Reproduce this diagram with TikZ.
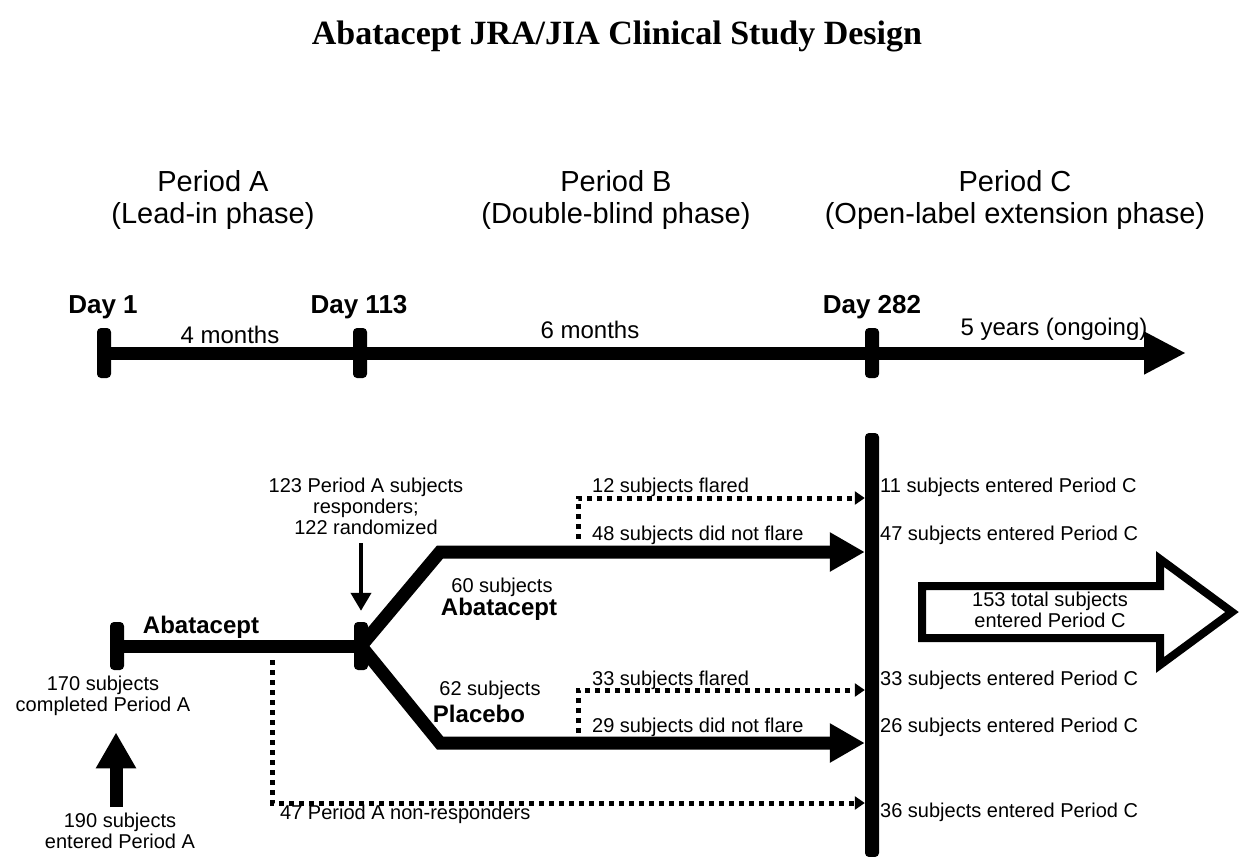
\documentclass[tikz,border=0pt]{standalone}
\usepackage{fontspec}
\setmainfont{Liberation Sans}
\newfontfamily\titlefont{Liberation Serif}
\usetikzlibrary{arrows.meta,positioning,calc}
\newcommand{\fsz}[2]{\fontsize{#1pt}{#2pt}\selectfont}

\begin{document}
\begin{tikzpicture}[x=1pt, y=-1pt,
      every node/.style={inner sep=0pt, text=black},
      txt/.style={font=\fsz{20}{21}, align=center},
      period/.style={font=\fsz{29}{32}, align=center},
      day/.style={font=\bfseries\fsz{26}{28}, anchor=base},
      durlbl/.style={font=\fsz{24}{26}, anchor=base},
      arm/.style={font=\bfseries\fsz{24}{26}, anchor=base},
      daytick/.style={fill=black, rounded corners=4pt, minimum width=14pt, minimum height=50pt},
      thickline/.style={line width=13pt},
      flow/.style={thickline, -{Triangle[length=35pt,width=37pt]}},
      drop/.style={line width=5pt, dash pattern=on 5pt off 5pt, -{Triangle[length=10pt,width=13pt]}}]
      \useasboundingbox (0,0) rectangle (1240,857);
      \node[font=\titlefont\bfseries\fsz{34}{36}, anchor=base] at (617,44) (title) {Abatacept JRA/JIA Clinical Study Design};

      \node[period] at (213,199.5) (perA) {Period A\\(Lead-in phase)};
      \node[period] at (616,199.5) (perB) {Period B\\(Double-blind phase)};
      \node[period] at (1015,199.5) (perC) {Period C\\(Open-label extension phase)};

      \coordinate (tlend) at (1186,353);
      \draw[thickline, -{Triangle[length=42pt,width=40pt]}] (104,353) -- (tlend);
      \node[daytick] at (104,353) (d1) {};
      \node[daytick] at (360,353) (d113) {};
      \node[daytick] at (872,353) (d282) {};
      \node[day] at (103,313) (d1lbl) {Day 1};
      \node[day] at (359,313) (d113lbl) {Day 113};
      \node[day] at (872,313) (d282lbl) {Day 282};
      \node[durlbl] at (230,343) (mo4) {4 months};
      \node[durlbl] at (590,338) (mo6) {6 months};
      \node[durlbl] at (1054,335) (yr5) {5 years (ongoing)};

      \node[daytick, minimum height=48pt] at (117,646) (start) {};
      \node[daytick, minimum height=48pt] at (361,646) (rand) {};
      \draw[thickline] (start.center) -- (rand.center);
      \node[arm] at (201,633) (abaA) {Abatacept};
      \node[fill=black, rounded corners=4pt, minimum width=14pt, minimum height=424pt] at (872,645) (entry) {};

      \coordinate (abaturn) at (440,552);
      \coordinate (plcturn) at (440,743);
      \draw[flow] (rand.center) -- (abaturn) -- (abaturn -| entry.west);
      \draw[flow] (rand.center) -- (plcturn) -- (plcturn -| entry.west);

      \node[txt] at (366,506.75) (resp) {123 Period A subjects\\responders;\\122 randomized};
      \draw[line width=4pt, -{Triangle[length=18pt,width=20pt]}, shorten <=8pt, shorten >=11pt] (resp.south -| rand) -- (rand.north);
      \node[txt, anchor=base] at (502,592) (n60) {60 subjects};
      \node[arm] at (499,615) (abaB) {Abatacept};
      \node[txt, anchor=base] at (490,695) (n62) {62 subjects};
      \node[arm] at (479,722) (plc) {Placebo};

      \coordinate (fl1) at (578,539);
      \coordinate (fl1c) at (578,498);
      \draw[drop] (fl1) -- (fl1c) -- (fl1c -| entry.west);
      \coordinate (fl2) at (578,733);
      \coordinate (fl2c) at (578,690);
      \draw[drop] (fl2) -- (fl2c) -- (fl2c -| entry.west);
      \coordinate (nr) at (272,660);
      \coordinate (nrc) at (272,803);
      \draw[drop] (nr) -- (nrc) -- (nrc -| entry.west);

      \node[txt, anchor=base west] at (592,492) (fl1lbl) {12 subjects flared};
      \node[txt, anchor=base west] at (592,540) (nf1lbl) {48 subjects did not flare};
      \node[txt, anchor=base west] at (592,685) (fl2lbl) {33 subjects flared};
      \node[txt, anchor=base west] at (592,732) (nf2lbl) {29 subjects did not flare};
      \node[txt, anchor=base west] at (280,819) (nrlbl) {47 Period A non-responders};

      \node[txt, anchor=base west] at (880,492) (c1) {11 subjects entered Period C};
      \node[txt, anchor=base west] at (880,540) (c2) {47 subjects entered Period C};
      \node[txt, anchor=base west] at (880,685) (c3) {33 subjects entered Period C};
      \node[txt, anchor=base west] at (880,732) (c4) {26 subjects entered Period C};
      \node[txt, anchor=base west] at (880,817) (c5) {36 subjects entered Period C};

      \node[txt] at (103,695.4) (compA) {170 subjects\\completed Period A};
      \node[txt] at (120,831.25) (entA) {190 subjects\\entered Period A};
      \coordinate (inbase) at (116,807);
      \draw[thickline, -{Triangle[length=36pt,width=38pt]}, shorten >=17pt] (inbase) -- (inbase |- compA.south);

      \draw[line width=8pt] (922,586) -- (1160,586) -- (1160,559) -- (1232,612) -- (1160,665) -- (1160,638) -- (922,638) -- cycle;
      \node[txt] at (1050,610.25) (total) {153 total subjects\\entered Period C};
    \end{tikzpicture}
\end{document}
